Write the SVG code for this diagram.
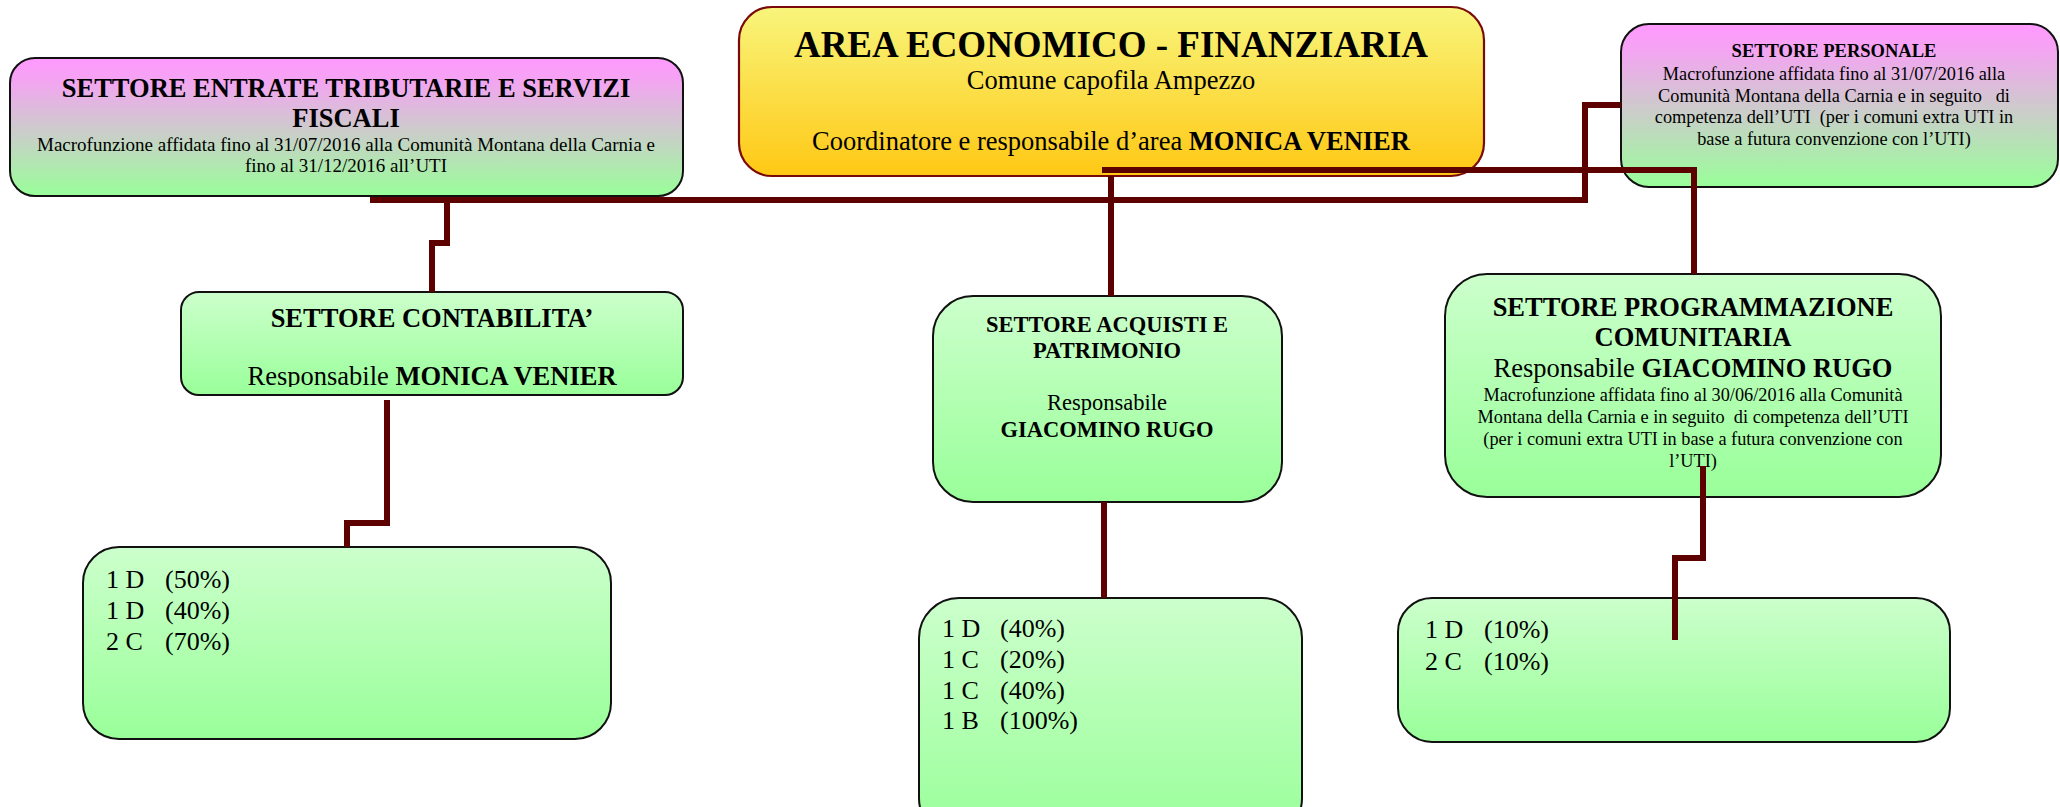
<svg xmlns="http://www.w3.org/2000/svg" width="2060" height="807" viewBox="0 0 2060 807">
<style>
text{font-family:"Liberation Serif","Times New Roman",serif;fill:#000}
.c{text-anchor:middle}
.b{font-weight:bold}
.box{stroke:#111;stroke-width:2}
.g{fill:url(#gGreen)}
.p{fill:url(#gPink)}
.conn{fill:none;stroke:#5c0000;stroke-width:6;stroke-linejoin:miter;stroke-linecap:butt}
.t26{font-size:26.5px}
.t19{font-size:19px}
.t18{font-size:18.3px}
.t22{font-size:22.5px}
.staff{font-size:26px}
</style>
<defs>
<linearGradient id="gGreen" x1="0" y1="0" x2="0" y2="1">
<stop offset="0" stop-color="#ccffcc"/>
<stop offset="1" stop-color="#99ff99"/>
</linearGradient>
<linearGradient id="gPink" x1="0" y1="0" x2="0" y2="1">
<stop offset="0" stop-color="#ff99ff"/>
<stop offset="0.15" stop-color="#f5a3f3"/>
<stop offset="1" stop-color="#99ff99"/>
</linearGradient>
<linearGradient id="gYellow" x1="0" y1="0" x2="0" y2="1">
<stop offset="0" stop-color="#f8f57c"/>
<stop offset="1" stop-color="#ffc814"/>
</linearGradient>
<clipPath id="clipCont"><rect x="181" y="292" width="502" height="95"/></clipPath>
</defs>
<rect width="2060" height="807" fill="#fff"/>

<g id="node-area">
<rect x="739" y="7" width="745" height="169" rx="33" ry="33" fill="url(#gYellow)" stroke="#7a0a0a" stroke-width="2.2"/>
<text class="c b" x="1111" y="57" font-size="37px">AREA ECONOMICO - FINANZIARIA</text>
<text class="c t26" x="1111" y="89">Comune capofila Ampezzo</text>
<text class="c t26" x="1111" y="150">Coordinatore e responsabile d’area <tspan class="b">MONICA VENIER</tspan></text>
</g>

<g id="node-entrate">
<rect class="box p" x="10" y="58" width="673" height="138" rx="25" ry="25"/>
<text class="c b t26" x="346" y="97">SETTORE ENTRATE TRIBUTARIE E SERVIZI</text>
<text class="c b t26" x="346" y="127">FISCALI</text>
<text class="c t19" x="346" y="151">Macrofunzione affidata fino al 31/07/2016 alla Comunità Montana della Carnia e</text>
<text class="c t19" x="346" y="172">fino al 31/12/2016 all’UTI</text>
</g>

<g id="node-personale">
<rect class="box p" x="1621" y="24" width="437" height="163" rx="28" ry="28"/>
<text class="c b" x="1834" y="57" font-size="18.5px">SETTORE PERSONALE</text>
<text class="c t18" x="1834" y="80">Macrofunzione affidata fino al 31/07/2016 alla</text>
<text class="c t18" x="1834" y="102">Comunità Montana della Carnia e in seguito&#160;&#160; di</text>
<text class="c t18" x="1834" y="123">competenza dell’UTI&#160; (per i comuni extra UTI in</text>
<text class="c t18" x="1834" y="145">base a futura convenzione con l’UTI)</text>
</g>

<g id="node-contabilita">
<rect class="box g" x="181" y="292" width="502" height="103" rx="18" ry="18"/>
<text class="c b t26" x="432" y="327">SETTORE CONTABILITA’</text>
<g clip-path="url(#clipCont)">
<text class="c t26" x="432" y="385">Responsabile <tspan class="b">MONICA VENIER</tspan></text>
</g>
</g>

<g id="node-acquisti">
<rect class="box g" x="933" y="296" width="349" height="206" rx="40" ry="40"/>
<text class="c b t22" x="1107" y="332">SETTORE ACQUISTI E</text>
<text class="c b t22" x="1107" y="358">PATRIMONIO</text>
<text class="c t22" x="1107" y="410">Responsabile</text>
<text class="c b t22" x="1107" y="437">GIACOMINO RUGO</text>
</g>

<g id="node-programmazione">
<rect class="box g" x="1445" y="274" width="496" height="223" rx="42" ry="42"/>
<text class="c b t26" x="1693" y="316">SETTORE PROGRAMMAZIONE</text>
<text class="c b t26" x="1693" y="346">COMUNITARIA</text>
<text class="c t26" x="1693" y="377">Responsabile <tspan class="b">GIACOMINO RUGO</tspan></text>
<text class="c t18" x="1693" y="401">Macrofunzione affidata fino al 30/06/2016 alla Comunità</text>
<text class="c t18" x="1693" y="423">Montana della Carnia e in seguito&#160; di competenza dell’UTI</text>
<text class="c t18" x="1693" y="445">(per i comuni extra UTI in base a futura convenzione con</text>
<text class="c t18" x="1693" y="467">l’UTI)</text>
</g>

<g id="node-staff-contabilita">
<rect class="box g" x="83" y="547" width="528" height="192" rx="36" ry="36"/>
<text class="staff" y="588"><tspan x="106">1 D</tspan><tspan x="165">(50%)</tspan></text>
<text class="staff" y="619"><tspan x="106">1 D</tspan><tspan x="165">(40%)</tspan></text>
<text class="staff" y="650"><tspan x="106">2 C</tspan><tspan x="165">(70%)</tspan></text>
</g>

<g id="node-staff-acquisti">
<rect class="box g" x="919" y="598" width="383" height="240" rx="40" ry="40"/>
<text class="staff" y="637"><tspan x="942">1 D</tspan><tspan x="1000">(40%)</tspan></text>
<text class="staff" y="668"><tspan x="942">1 C</tspan><tspan x="1000">(20%)</tspan></text>
<text class="staff" y="699"><tspan x="942">1 C</tspan><tspan x="1000">(40%)</tspan></text>
<text class="staff" y="729"><tspan x="942">1 B</tspan><tspan x="1000">(100%)</tspan></text>
</g>

<g id="node-staff-programmazione">
<rect class="box g" x="1398" y="598" width="552" height="144" rx="34" ry="34"/>
<text class="staff" y="638"><tspan x="1425">1 D</tspan><tspan x="1484">(10%)</tspan></text>
<text class="staff" y="670"><tspan x="1425">2 C</tspan><tspan x="1484">(10%)</tspan></text>
</g>

<g id="connectors">
<path class="conn" d="M370,200 H1585 V105 H1621"/>
<path class="conn" d="M1102,170 H1694 V274"/>
<path class="conn" d="M1111,176 V296"/>
<path class="conn" d="M447,200 V243 H432 V292"/>
<path class="conn" d="M387,400 V523 H347 V547"/>
<path class="conn" d="M1104,502 V598"/>
<path class="conn" d="M1703,466 V558 H1675 V640"/>
</g>
</svg>
